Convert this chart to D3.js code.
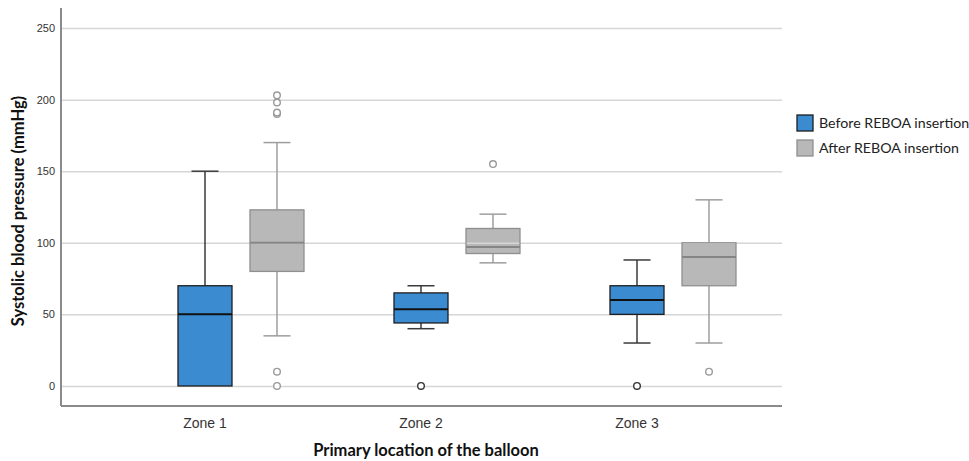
<!DOCTYPE html>
<html>
    <head>
        <script src="https://d3js.org/d3.v7.min.js"></script>
        <style>
            body { margin: 0; background: #fff; }
        </style>
    </head>
    <body>
        <svg height="461" width="969" id="chart"></svg>
        <script>
            // categories and series
            const zones=["Zone 1", "Zone 2", "Zone 3"];
            const series=["Before REBOA insertion", "After REBOA insertion"];
            const yTicks=[0, 50, 100, 150, 200, 250];

            // box plot stats (mmHg)
            const beforeMin=[0, 40, 30];
            const beforeQ1=[0, 44, 50];
            const beforeMedian=[50, 53.5, 60];
            const beforeQ3=[70, 65, 70];
            const beforeMax=[150, 70, 88];
            const beforeOutliers=[[], [0], [0]];

            const afterMin=[35, 86, 30];
            const afterQ1=[80, 92.5, 70];
            const afterMedian=[100, 97, 90];
            const afterQ3=[123, 110, 100];
            const afterMax=[170, 120, 130];
            const afterOutliers=[[0, 10, 190, 191, 198, 203], [155], [10]];

            const colors={fill: ["#3a8bd0", "#b8b8b8"], stroke: ["#1e1e1e", "#8f8f8f"], whisker: ["#3a3a3a", "#9e9e9e"]};

            // build rows for drawing
            let boxes=[];
            zones.forEach((z, i)=>{
                boxes.push({zone: z, s: 0, min: beforeMin[i], q1: beforeQ1[i], med: beforeMedian[i], q3: beforeQ3[i], max: beforeMax[i], out: beforeOutliers[i]});
                boxes.push({zone: z, s: 1, min: afterMin[i], q1: afterQ1[i], med: afterMedian[i], q3: afterQ3[i], max: afterMax[i], out: afterOutliers[i]});
            });

            let svg=d3.select("#chart");
            let plotLeft=61, plotRight=782, plotTop=8, plotBottom=406;

            let y=d3.scaleLinear().domain([-14, 264]).range([plotBottom, plotTop]);
            let x=d3.scaleBand().domain(zones).range([133, 781]);
            let sub=d3.scaleBand().domain(d3.range(series.length)).range([-72, 72]);
            let boxW=sub.bandwidth()*0.75;
            let capW=boxW*0.5;
            let cx=d=>x(d.zone)+x.bandwidth()/2+sub(d.s)+sub.bandwidth()/2;

            // grey box fills sit under the grid (grid shows through them)
            svg.append("g").selectAll("rect")
                .data(boxes.filter(d=>d.s==1))
                .join("rect")
                .attr("x", d=>cx(d)-boxW/2)
                .attr("y", d=>y(d.q3))
                .attr("width", boxW)
                .attr("height", d=>y(d.q1)-y(d.q3))
                .attr("fill", colors.fill[1]);

            // grid + y tick labels
            let yAxis=svg.append("g")
                .attr("transform", `translate(${plotLeft},0)`)
                .call(d3.axisLeft(y).tickValues(yTicks).tickSize(-(plotRight-plotLeft)).tickPadding(6));
            yAxis.select(".domain").remove();
            yAxis.selectAll(".tick line").attr("stroke", "#d6d6d6").attr("stroke-width", 1.5);
            yAxis.selectAll(".tick text")
                .attr("font-family", "Liberation Sans, Arial, sans-serif")
                .attr("font-size", 11)
                .attr("fill", "#333");

            let g=svg.append("g");
            let box=g.selectAll("g.box").data(boxes).join("g").attr("class", "box");

            // whiskers
            box.append("line")
                .attr("x1", cx).attr("x2", cx)
                .attr("y1", d=>y(d.max)).attr("y2", d=>y(d.q3))
                .attr("stroke", d=>colors.whisker[d.s]).attr("stroke-width", 1.5);
            box.append("line")
                .attr("x1", cx).attr("x2", cx)
                .attr("y1", d=>y(d.q1)).attr("y2", d=>y(d.min))
                .attr("stroke", d=>colors.whisker[d.s]).attr("stroke-width", 1.5);
            box.append("line")
                .attr("x1", d=>cx(d)-capW/2).attr("x2", d=>cx(d)+capW/2)
                .attr("y1", d=>y(d.max)).attr("y2", d=>y(d.max))
                .attr("stroke", d=>colors.whisker[d.s]).attr("stroke-width", 1.5);
            box.append("line")
                .attr("x1", d=>cx(d)-capW/2).attr("x2", d=>cx(d)+capW/2)
                .attr("y1", d=>y(d.min)).attr("y2", d=>y(d.min))
                .attr("stroke", d=>colors.whisker[d.s]).attr("stroke-width", 1.5)
                .attr("display", d=>d.min==d.q1 ? "none" : null);

            // boxes
            box.append("rect")
                .attr("x", d=>cx(d)-boxW/2)
                .attr("y", d=>y(d.q3))
                .attr("width", boxW)
                .attr("height", d=>y(d.q1)-y(d.q3))
                .attr("fill", d=>d.s==0 ? colors.fill[0] : "none")
                .attr("stroke", d=>colors.stroke[d.s])
                .attr("stroke-width", 1.3);

            // medians
            box.append("line")
                .attr("x1", d=>cx(d)-boxW/2).attr("x2", d=>cx(d)+boxW/2)
                .attr("y1", d=>y(d.med)).attr("y2", d=>y(d.med))
                .attr("stroke", d=>d.s==0 ? "#111" : "#858585")
                .attr("stroke-width", 2);

            // outliers
            box.selectAll("circle")
                .data(d=>d.out.map(v=>({v: v, d: d})))
                .join("circle")
                .attr("cx", o=>cx(o.d))
                .attr("cy", o=>y(o.v))
                .attr("r", 3.3)
                .attr("fill", "#fff")
                .attr("stroke", o=>o.d.s==0 ? "#333" : "#9a9a9a")
                .attr("stroke-width", 1.4);

            // axis frame
            svg.append("line")
                .attr("x1", plotLeft).attr("x2", plotLeft).attr("y1", plotTop).attr("y2", plotBottom)
                .attr("stroke", "#8a8a8a").attr("stroke-width", 2);
            svg.append("line")
                .attr("x1", plotLeft).attr("x2", plotRight).attr("y1", plotBottom).attr("y2", plotBottom)
                .attr("stroke", "#8a8a8a").attr("stroke-width", 2);

            // zone labels, centred under first series box
            svg.append("g").selectAll("text")
                .data(zones)
                .join("text")
                .attr("x", z=>cx({zone: z, s: 0}))
                .attr("y", 428)
                .attr("text-anchor", "middle")
                .attr("font-family", "Liberation Sans, Arial, sans-serif")
                .attr("font-size", 14)
                .attr("fill", "#333")
                .text(z=>z);

            // axis titles
            svg.append("text")
                .attr("x", 426).attr("y", 456)
                .attr("text-anchor", "middle")
                .attr("font-family", "Lato, sans-serif")
                .attr("font-weight", "bold")
                .attr("font-size", 16.5)
                .attr("fill", "#111")
                .text("Primary location of the balloon");
            svg.append("text")
                .attr("transform", "translate(24,211) rotate(-90)")
                .attr("text-anchor", "middle")
                .attr("font-family", "Lato, sans-serif")
                .attr("font-weight", "bold")
                .attr("font-size", 16.5)
                .attr("fill", "#111")
                .text("Systolic blood pressure (mmHg)");

            // legend
            let legend=svg.append("g").attr("transform", "translate(797,115)");
            let item=legend.selectAll("g").data(series).join("g")
                .attr("transform", (d, i)=>`translate(0,${i*25})`);
            item.append("rect")
                .attr("width", 16).attr("height", 16)
                .attr("fill", (d, i)=>colors.fill[i])
                .attr("stroke", (d, i)=>i==0 ? "#1e1e1e" : "#8f8f8f")
                .attr("stroke-width", 1.3);
            item.append("text")
                .attr("x", 22).attr("y", 13)
                .attr("font-family", "Lato, sans-serif")
                .attr("font-size", 14.2)
                .attr("fill", "#222")
                .text(d=>d);
        </script>
    </body>
</html>
